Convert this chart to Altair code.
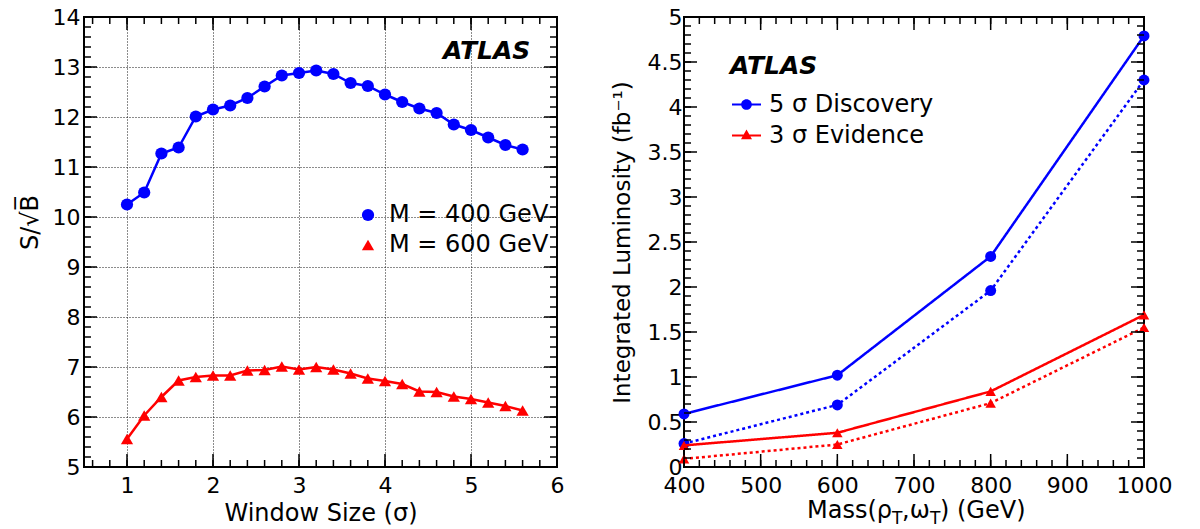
import altair as alt
import pandas as pd
import numpy as np

FONT = "DejaVu Sans"
BLUE = "#0000ff"
RED = "#ff0000"

# ---------------- data ----------------
window_size = [1.0, 1.2, 1.4, 1.6, 1.8, 2.0, 2.2, 2.4, 2.6, 2.8, 3.0, 3.2,
               3.4, 3.6, 3.8, 4.0, 4.2, 4.4, 4.6, 4.8, 5.0, 5.2, 5.4, 5.6]
snr_m400 = [10.25, 10.49, 11.27, 11.39, 12.01, 12.15, 12.23, 12.38, 12.61, 12.83, 12.88, 12.93,
            12.86, 12.68, 12.62, 12.45, 12.30, 12.17, 12.08, 11.85, 11.74, 11.59, 11.44, 11.35]
snr_m600 = [5.56, 6.03, 6.40, 6.73, 6.80, 6.83, 6.83, 6.93, 6.94, 7.01, 6.95, 7.00,
            6.95, 6.87, 6.77, 6.72, 6.66, 6.51, 6.50, 6.41, 6.36, 6.29, 6.22, 6.13]
left_series = ["M = 400 GeV", "M = 600 GeV"]

mass = [400, 600, 800, 1000]
disc_solid = [0.59, 1.02, 2.34, 4.79]
disc_dotted = [0.26, 0.69, 1.96, 4.30]
evid_solid = [0.24, 0.38, 0.84, 1.69]
evid_dotted = [0.09, 0.25, 0.71, 1.55]
right_series = ["5 σ Discovery", "3 σ Evidence"]
line_styles = ["solid", "dotted"]

left_x_major = [1, 2, 3, 4, 5, 6]
left_y_major = [5, 6, 7, 8, 9, 10, 11, 12, 13, 14]
right_x_major = [400, 500, 600, 700, 800, 900, 1000]
right_y_major = [0, 0.5, 1, 1.5, 2, 2.5, 3, 3.5, 4, 4.5, 5]
left_x_minor = [round(v, 2) for v in np.arange(0.6, 6.001, 0.2)]
left_y_minor = [round(v, 2) for v in np.arange(5.0, 14.001, 0.2)]
right_x_minor = list(range(400, 1001, 20))
right_y_minor = [round(v, 2) for v in np.arange(0.0, 5.001, 0.1)]

# ---------------- tables ----------------
left_df = pd.DataFrame({
    "w": window_size * 2,
    "s": snr_m400 + snr_m600,
    "series": [left_series[0]] * len(window_size) + [left_series[1]] * len(window_size),
})
rows = []
for ser, sty, vals in [(right_series[0], "solid", disc_solid), (right_series[0], "dotted", disc_dotted),
                       (right_series[1], "solid", evid_solid), (right_series[1], "dotted", evid_dotted)]:
    for m, v in zip(mass, vals):
        rows.append({"mass": m, "lum": v, "series": ser, "style": sty, "key": ser + sty})
right_df = pd.DataFrame(rows)

# ---------------- styling ----------------
LAB = 22
TIT = 24
LEG = 24
W1, H1 = 473, 450
W2, H2 = 460, 450
MAJ, MIN = 13, 7


def label_axis(orient, values, title, fmt, grid, lpad, tpad, **kw):
    opts = dict(orient=orient, values=values, title=title, format=fmt, grid=grid,
                gridDash=[1, 2], gridColor="black", gridWidth=1, gridOpacity=0.9,
                ticks=False, tickSize=0, domain=False, labelFont=FONT, labelFontSize=LAB,
                labelColor="black", labelPadding=lpad, labelFlush=False, labelOverlap=False,
                titleFont=FONT, titleFontSize=TIT, titleFontWeight="normal", titleColor="black",
                titlePadding=tpad, minExtent=0)
    opts.update(kw)
    return alt.Axis(**opts)


def tick_rules(xs, ys, W, H, x_major, x_minor, y_major, y_minor):
    """Inward-pointing ticks on all four frame edges, placed through the panel's scales."""
    out = []
    for vals, size in [(x_major, MAJ), (x_minor, MIN)]:
        d = pd.DataFrame({"v": vals})
        xe = alt.X("v:Q", scale=xs, axis=None)
        out.append(alt.Chart(d).mark_rule(color="black", strokeWidth=1.5).encode(
            x=xe, y=alt.value(H), y2=alt.value(H - size)))
        out.append(alt.Chart(d).mark_rule(color="black", strokeWidth=1.5).encode(
            x=xe, y=alt.value(0), y2=alt.value(size)))
    for vals, size in [(y_major, MAJ), (y_minor, MIN)]:
        d = pd.DataFrame({"v": vals})
        ye = alt.Y("v:Q", scale=ys, axis=None)
        out.append(alt.Chart(d).mark_rule(color="black", strokeWidth=1.5).encode(
            y=ye, x=alt.value(0), x2=alt.value(size)))
        out.append(alt.Chart(d).mark_rule(color="black", strokeWidth=1.5).encode(
            y=ye, x=alt.value(W), x2=alt.value(W - size)))
    return out


# ---------------- left panel ----------------
xs1 = alt.Scale(domain=[0.5, 6], nice=False, zero=False)
ys1 = alt.Scale(domain=[5, 14], nice=False, zero=False)

base1 = alt.Chart(left_df)
xn1 = alt.X("w:Q", scale=xs1, axis=None)
yn1 = alt.Y("s:Q", scale=ys1, axis=None)

l_blue_line = base1.transform_filter(alt.datum.series == left_series[0]).mark_line(
    color=BLUE, strokeWidth=2.5).encode(
    x=alt.X("w:Q", scale=xs1, axis=label_axis("bottom", left_x_major, "Window Size (σ)", "d", True, 8, 5)),
    y=alt.Y("s:Q", scale=ys1, axis=label_axis("left", left_y_major, "S/√B̅", "d", True, 4, 10, titleY=205)),
)
l_blue_pts = base1.transform_filter(alt.datum.series == left_series[0]).mark_point(
    filled=True, shape="circle", size=150, color=BLUE, opacity=1).encode(x=xn1, y=yn1)
l_red_line = base1.transform_filter(alt.datum.series == left_series[1]).mark_line(
    color=RED, strokeWidth=2.5).encode(x=xn1, y=yn1)
l_red_pts = base1.transform_filter(alt.datum.series == left_series[1]).mark_point(
    filled=True, shape="triangle-up", size=150, color=RED, opacity=1).encode(x=xn1, y=yn1)
l_ticks = tick_rules(xs1, ys1, W1, H1, left_x_major, left_x_minor, left_y_major, left_y_minor)
leg1 = alt.Legend(orient="none", legendX=272, legendY=186, title=None, labelFont=FONT,
                  labelFontSize=LEG, labelColor="black", symbolSize=150, symbolStrokeWidth=0,
                  padding=0, rowPadding=6, labelOffset=9, symbolOffset=0, labelLimit=0)
l_legend = base1.transform_filter("false").mark_point(filled=True, size=150, opacity=1).encode(
    x=xn1, y=yn1,
    color=alt.Color("series:N", scale=alt.Scale(domain=left_series, range=[BLUE, RED]), legend=leg1),
    shape=alt.Shape("series:N", scale=alt.Scale(domain=left_series, range=["circle", "triangle-up"]), legend=leg1),
)
atlas_df = pd.DataFrame({"t": ["ATLAS"]})
l_atlas = alt.Chart(atlas_df).mark_text(font=FONT, fontSize=25, fontWeight="bold", fontStyle="italic",
                                        align="left", baseline="alphabetic", color="black").encode(
    x=alt.value(359), y=alt.value(42), text="t:N")

left = alt.layer(l_blue_line, l_blue_pts, l_red_line, l_red_pts, *l_ticks, l_legend, l_atlas
                 ).resolve_axis(x="independent", y="independent").properties(width=W1, height=H1)

# ---------------- right panel ----------------
xs2 = alt.Scale(domain=[400, 1000], nice=False, zero=False)
ys2 = alt.Scale(domain=[0, 5], nice=False, zero=False)
dash = alt.StrokeDash("style:N", scale=alt.Scale(domain=line_styles, range=[[1, 0], [3, 3]]), legend=None)

base2 = alt.Chart(right_df)
xn2 = alt.X("mass:Q", scale=xs2, axis=None)
yn2 = alt.Y("lum:Q", scale=ys2, axis=None)

r_blue_line = base2.transform_filter(alt.datum.series == right_series[0]).mark_line(
    color=BLUE, strokeWidth=2.5).encode(
    x=alt.X("mass:Q", scale=xs2, axis=label_axis("bottom", right_x_major, None, "d", False, 8, 5)),
    y=alt.Y("lum:Q", scale=ys2, axis=label_axis("left", right_y_major, "Integrated Luminosity (fb⁻¹)", "~g",
                                                   False, 2, 13, titleFontSize=23)),
    strokeDash=dash, detail="key:N")
r_blue_pts = base2.transform_filter(alt.datum.series == right_series[0]).mark_point(
    filled=True, shape="circle", size=120, color=BLUE, opacity=1).encode(x=xn2, y=yn2)
r_red_line = base2.transform_filter(alt.datum.series == right_series[1]).mark_line(
    color=RED, strokeWidth=2.5).encode(x=xn2, y=yn2, strokeDash=dash, detail="key:N")
r_red_pts = base2.transform_filter(alt.datum.series == right_series[1]).mark_point(
    filled=True, shape="triangle-up", size=110, color=RED, opacity=1).encode(x=xn2, y=yn2)
r_ticks = tick_rules(xs2, ys2, W2, H2, right_x_major, right_x_minor, right_y_major, right_y_minor)
disc_symbol = "M-1,-0.075H1V0.075H-1Z M0.37,0A0.37,0.37,0,1,1,-0.37,0A0.37,0.37,0,1,1,0.37,0Z"
evid_symbol = "M-1,-0.075H1V0.075H-1Z M0,-0.42L0.38,0.25L-0.38,0.25Z"
leg2 = alt.Legend(orient="none", legendX=48, legendY=73, title=None, labelFont=FONT,
                  labelFontSize=LEG, labelColor="black", symbolSize=841, symbolStrokeWidth=0,
                  padding=0, rowPadding=4, labelOffset=8, symbolOffset=0, labelLimit=0)
r_legend = base2.transform_filter("false").mark_point(filled=True, size=150, opacity=1).encode(
    x=xn2, y=yn2,
    color=alt.Color("series:N", scale=alt.Scale(domain=right_series, range=[BLUE, RED]), legend=leg2),
    shape=alt.Shape("series:N", scale=alt.Scale(domain=right_series, range=[disc_symbol, evid_symbol]), legend=leg2),
)
r_atlas = alt.Chart(atlas_df).mark_text(font=FONT, fontSize=25, fontWeight="bold", fontStyle="italic",
                                        align="left", baseline="alphabetic", color="black").encode(
    x=alt.value(46), y=alt.value(57), text="t:N")

# x-axis title with subscripts, as text pieces
title_main = pd.DataFrame({"t": ["Mass(ρ", ",ω", ") (GeV)"], "px": [123, 218, 256]})
title_sub = pd.DataFrame({"t": ["T", "T"], "px": [208, 246]})
r_title_main = alt.Chart(title_main).mark_text(font=FONT, fontSize=TIT, align="left", baseline="alphabetic",
                                               color="black").encode(
    x=alt.X("px:Q", scale=None), y=alt.value(501), text="t:N")
r_title_sub = alt.Chart(title_sub).mark_text(font=FONT, fontSize=17, align="left", baseline="alphabetic",
                                             color="black").encode(
    x=alt.X("px:Q", scale=None), y=alt.value(507), text="t:N")

right = alt.layer(r_blue_line, r_blue_pts, r_red_line, r_red_pts, *r_ticks, r_legend, r_atlas,
                  r_title_main, r_title_sub
                  ).resolve_axis(x="independent", y="independent").properties(width=W2, height=H2)

chart = alt.hconcat(left, right, spacing=45).resolve_scale(
    color="independent", shape="independent").resolve_legend(
    color="independent", shape="independent").configure_view(
    stroke="black", strokeWidth=2).properties(padding={"left": 9, "top": -3, "right": 5, "bottom": 0})

chart.save("out.html", embed_options={"renderer": "svg", "actions": False})
